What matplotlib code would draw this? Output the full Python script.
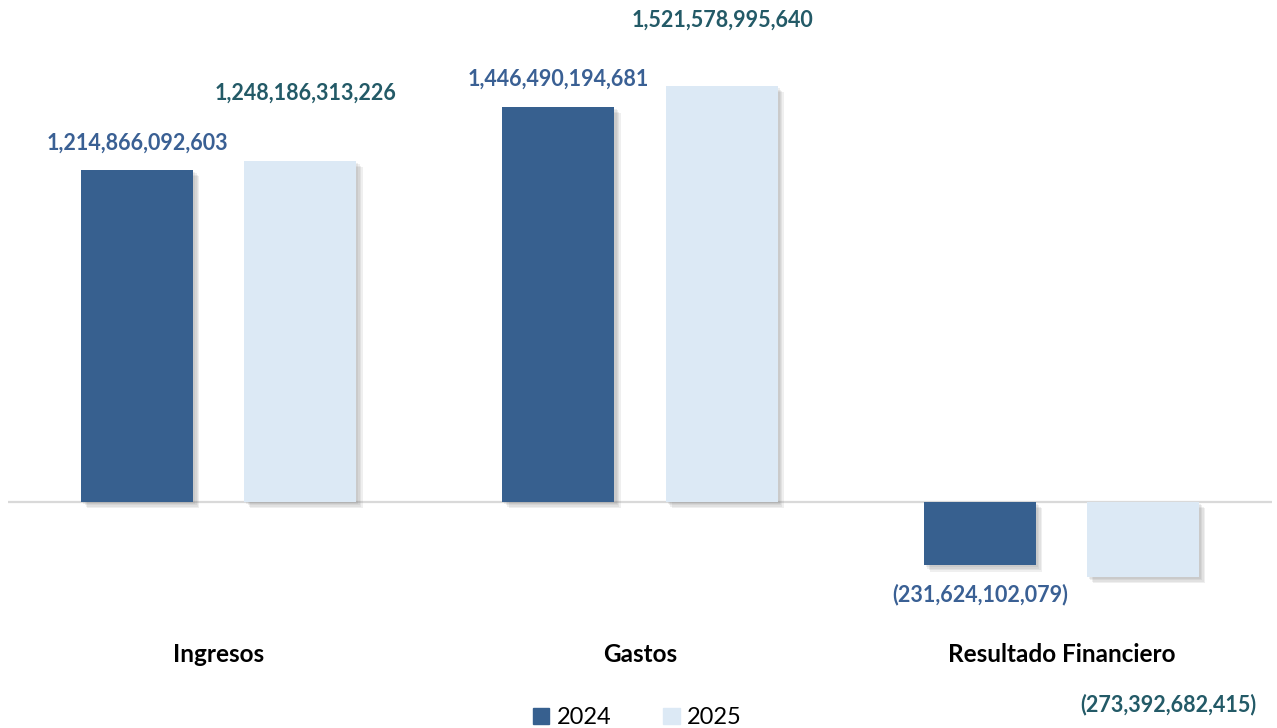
import matplotlib.pyplot as plt
import matplotlib.patheffects as pe
from matplotlib.patches import Patch
import numpy as np

categories = ["Ingresos", "Gastos", "Resultado Financiero"]
values_2024 = [1214866092603, 1446490194681, -231624102079]
values_2025 = [1248186313226, 1521578995640, -273392682415]
series_names = ["2024", "2025"]

COLOR_2024 = "#37608F"
COLOR_2025 = "#DCE9F5"
LABEL_2024 = "#3A6094"
LABEL_2025 = "#235A67"

# label offsets in pixels (dx, dy) from bar end, as placed in the original
off_2024 = [(0, 27), (0, 27), (0, -29)]
off_2025 = [(5, 68), (1, 66), (25, -128)]


def fmt(v):
    s = "{:,.0f}".format(abs(v))
    return "(" + s + ")" if v < 0 else s


fig = plt.figure(figsize=(12.77, 7.28), dpi=100)
ax = fig.add_axes([8 / 1277, 128 / 728, 1264 / 1277, 600 / 728])

x = np.arange(len(categories))
w = 0.266
d = 0.1936

shadow = [pe.SimplePatchShadow(offset=(o, -o), shadow_rgbFace="#7F7F7F", alpha=0.12)
          for o in (1.5, 2.5, 3.5, 4.5)] + [pe.Normal()]

b1 = ax.bar(x - d, values_2024, w, color=COLOR_2024, zorder=3)
b2 = ax.bar(x + d, values_2025, w, color=COLOR_2025, zorder=3)
for b in list(b1) + list(b2):
    b.set_path_effects(shadow)

ax.axhline(0, color="#D9D9D9", lw=1.6, zorder=2)

px = 0.72
for i in range(len(categories)):
    for vals, offs, col, sh in ((values_2024, off_2024, LABEL_2024, -d),
                                (values_2025, off_2025, LABEL_2025, d)):
        ax.annotate(fmt(vals[i]), (x[i] + sh, vals[i]),
                    xytext=(offs[i][0] * px, offs[i][1] * px), textcoords="offset points",
                    ha="center", va="center", fontsize=15.5, fontweight="bold",
                    color=col, family="Lato", annotation_clip=False)

ax.set_xlim(-0.5, 2.5)
ax.set_ylim(-98 / 2.733e-10, 502 / 2.733e-10)
ax.set_xticks(x)
ax.set_xticklabels(categories, fontsize=17.5, fontweight="bold", family="Lato")
ax.tick_params(axis="x", length=0, pad=31)
ax.set_yticks([])
for s in ax.spines.values():
    s.set_visible(False)

handles = [Patch(color=COLOR_2024), Patch(color=COLOR_2025)]
fig.legend(handles, series_names, loc="center", bbox_to_anchor=(0.499, 0.014), ncol=2,
           frameon=False, prop={"family": "Lato", "size": 17}, handlelength=0.7,
           handleheight=0.7, columnspacing=2.2, handletextpad=0.3)

fig.savefig("out.png", dpi=100)
